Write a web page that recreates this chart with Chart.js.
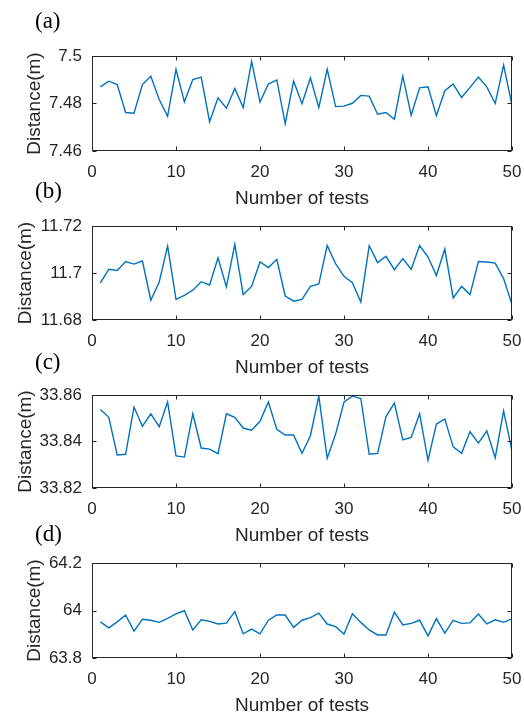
<!DOCTYPE html>
<html><head><meta charset="utf-8">
<script src="https://cdn.jsdelivr.net/npm/chart.js@4.4.0/dist/chart.umd.min.js"></script>
<style>
html,body{margin:0;padding:0;background:#fff;}
#wrap{position:relative;width:524px;height:717px;overflow:hidden;background:#fff;}
#wrap canvas{position:absolute;left:0;}
</style></head><body><div id="wrap"></div>
<script>
const tests = [1,2,3,4,5,6,7,8,9,10,11,12,13,14,15,16,17,18,19,20,21,22,23,24,25,26,27,28,29,30,31,32,33,34,35,36,37,38,39,40,41,42,43,44,45,46,47,48,49,50];
const distA = [7.4870,7.4894,7.4880,7.4762,7.4759,7.4880,7.4915,7.4817,7.4746,7.4944,7.4807,7.4901,7.4911,7.4723,7.4824,7.4780,7.4863,7.4783,7.4977,7.4806,7.4882,7.4899,7.4715,7.4894,7.4799,7.4908,7.4783,7.4944,7.4787,7.4789,7.4801,7.4834,7.4831,7.4755,7.4762,7.4734,7.4915,7.4751,7.4866,7.4870,7.4749,7.4854,7.4882,7.4825,7.4868,7.4911,7.4870,7.4800,7.4962,7.4793];
const distB = [11.6958,11.7016,11.7011,11.7049,11.7038,11.7051,11.6884,11.6962,11.7114,11.6888,11.6905,11.6927,11.6963,11.6949,11.7065,11.6941,11.7122,11.6908,11.6943,11.7047,11.7023,11.7058,11.6902,11.6880,11.6888,11.6943,11.6953,11.7117,11.7040,11.6986,11.6959,11.6877,11.7116,11.7044,11.7071,11.7014,11.7061,11.7016,11.7117,11.7068,11.6989,11.7102,11.6894,11.6943,11.6908,11.7049,11.7047,11.7042,11.6976,11.6866];
const distC = [33.8538,33.8504,33.8342,33.8345,33.8548,33.8465,33.8519,33.8464,33.8570,33.8338,33.8333,33.8519,33.8372,33.8367,33.8348,33.8519,33.8504,33.8458,33.8449,33.8487,33.8570,33.8452,33.8428,33.8428,33.8349,33.8425,33.8595,33.8328,33.8432,33.8570,33.8595,33.8585,33.8345,33.8349,33.8507,33.8565,33.8407,33.8417,33.8519,33.8319,33.8475,33.8497,33.8377,33.8349,33.8442,33.8393,33.8446,33.8330,33.8532,33.8359];
const distD = [63.952,63.927,63.952,63.981,63.913,63.963,63.959,63.950,63.967,63.986,63.999,63.918,63.961,63.954,63.943,63.947,63.995,63.902,63.922,63.902,63.959,63.981,63.981,63.929,63.959,63.970,63.989,63.943,63.932,63.901,63.986,63.950,63.918,63.897,63.897,63.993,63.939,63.946,63.959,63.893,63.966,63.905,63.959,63.946,63.948,63.985,63.944,63.961,63.950,63.965];
const xTicks = [0,10,20,30,40,50];
const yTicksA = [7.46,7.48,7.5];
const yTicksB = [11.68,11.7,11.72];
const yTicksC = [33.82,33.84,33.86];
const yTicksD = [63.8,64,64.2];
const panelLabels = ['(a)','(b)','(c)','(d)'];
const xTitle = 'Number of tests';
const yTitle = 'Distance(m)';

const panels = [
  {vals: distA, yt: yTicksA, label: panelLabels[0], plotTop: 56, plotBottom: 151, labelY: 22, yTitlePad: 23},
  {vals: distB, yt: yTicksB, label: panelLabels[1], plotTop: 226, plotBottom: 320, labelY: 192, yTitlePad: 14},
  {vals: distC, yt: yTicksC, label: panelLabels[2], plotTop: 395, plotBottom: 488, labelY: 363, yTitlePad: 14},
  {vals: distD, yt: yTicksD, label: panelLabels[3], plotTop: 563, plotBottom: 658, labelY: 535, yTitlePad: 23}
];

const INK = '#262626';
const PADTOP = 45, XH = 62;

const boxPlugin = {
  id: 'box',
  afterDraw(chart, args, opts) {
    const {ctx, chartArea: {left, right, top, bottom}, scales: {x, y}} = chart;
    ctx.save();
    ctx.strokeStyle = INK;
    ctx.lineWidth = 1;
    const L = Math.round(left) + 0.5, R = Math.round(right) - 0.5, T = Math.round(top) + 0.5, B = Math.round(bottom) - 0.5;
    ctx.strokeRect(L, T, R - L, B - T);
    const tl = 4;
    ctx.beginPath();
    x.ticks.forEach(t => {
      const px = Math.round(x.getPixelForValue(t.value)) + 0.5;
      ctx.moveTo(px, B); ctx.lineTo(px, B - tl);
      ctx.moveTo(px, T); ctx.lineTo(px, T + tl);
    });
    y.ticks.forEach(t => {
      const py = Math.round(y.getPixelForValue(t.value)) + 0.5;
      ctx.moveTo(L, py); ctx.lineTo(L + tl, py);
      ctx.moveTo(R, py); ctx.lineTo(R - tl, py);
    });
    ctx.stroke();
    ctx.fillStyle = '#000';
    ctx.font = '23px "Liberation Serif"';
    ctx.textBaseline = 'middle';
    ctx.textAlign = 'left';
    ctx.fillText(opts.label, 35, opts.labelY);
    ctx.restore();
  }
};

const wrap = document.getElementById('wrap');
panels.forEach(p => {
  const ph = p.plotBottom - p.plotTop;
  const ctop = p.plotTop - PADTOP;
  const H = PADTOP + ph + XH;
  const cv = document.createElement('canvas');
  cv.width = 524; cv.height = H;
  cv.style.width = '524px'; cv.style.height = H + 'px';
  cv.style.top = ctop + 'px';
  wrap.appendChild(cv);
  new Chart(cv, {
    type: 'line',
    data: {
      datasets: [{
        data: p.vals.map((v, i) => ({x: tests[i], y: v})),
        borderColor: '#0072BD',
        borderWidth: 1.4,
        pointRadius: 0,
        tension: 0,
        fill: false
      }]
    },
    options: {
      responsive: false,
      animation: false,
      devicePixelRatio: 1,
      layout: {padding: {top: PADTOP, right: 12, bottom: 0, left: 0}},
      plugins: {
        legend: {display: false},
        tooltip: {enabled: false},
        box: {label: p.label, labelY: p.labelY - ctop}
      },
      scales: {
        x: {
          type: 'linear', min: 0, max: 50,
          afterBuildTicks(s) { s.ticks = xTicks.map(v => ({value: v})); },
          afterFit(s) { s.height = XH; s.paddingLeft = 0; s.paddingRight = 0; },
          grid: {display: false, drawTicks: false},
          border: {display: false},
          ticks: {font: {family: '"Liberation Sans", Arial, sans-serif', size: 17}, color: INK, padding: 11, maxRotation: 0, autoSkip: false},
          title: {display: true, text: xTitle, color: INK, font: {family: '"Liberation Sans", Arial, sans-serif', size: 19}, padding: {top: 0, bottom: 3}}
        },
        y: {
          min: p.yt[0], max: p.yt[p.yt.length - 1],
          afterBuildTicks(s) { s.ticks = p.yt.map(v => ({value: v})); },
          afterFit(s) { s.width = 92; s.paddingTop = 0; s.paddingBottom = 0; },
          grid: {display: false, drawTicks: false},
          border: {display: false},
          ticks: {font: {family: '"Liberation Sans", Arial, sans-serif', size: 17}, color: INK, padding: 10,
                  callback: v => String(Number(v.toFixed(4)))},
          title: {display: true, text: yTitle, color: INK, font: {family: '"Liberation Sans", Arial, sans-serif', size: 19}, padding: {top: p.yTitlePad, bottom: 0}}
        }
      }
    },
    plugins: [boxPlugin]
  });
});
</script></body></html>
